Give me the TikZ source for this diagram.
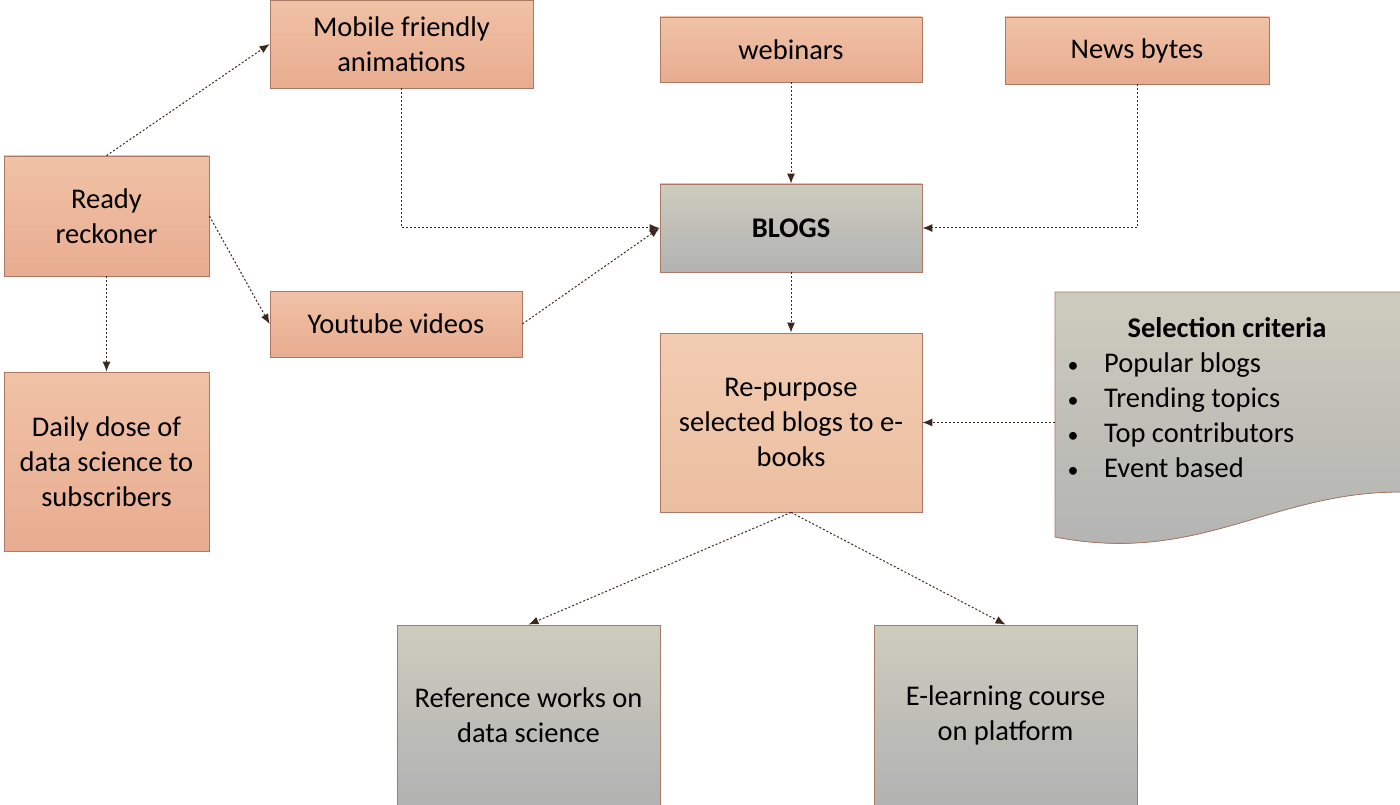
\documentclass[tikz,border=0pt]{standalone}
\usepackage{fontspec}
\setmainfont{Carlito}
\usetikzlibrary{arrows.meta}
\definecolor{salT}{RGB}{240,194,166}
\definecolor{salB}{RGB}{232,172,144}
\definecolor{repT}{RGB}{242,204,178}
\definecolor{repB}{RGB}{236,190,160}
\definecolor{gryT}{RGB}{204,204,190}
\definecolor{gryB}{RGB}{178,178,178}
\definecolor{boxline}{RGB}{170,120,100}
\definecolor{connc}{RGB}{60,40,30}
\begin{document}
\begin{tikzpicture}[x=1pt,y=-1pt,font=\fontsize{28.5}{35}\selectfont,
  box/.style={draw=boxline,line width=0.8pt,align=center,inner sep=0pt,
    top color=salT,bottom color=salB},
  rbox/.style={box,top color=repT,bottom color=repB},
  gbox/.style={box,top color=gryT,bottom color=gryB},
  conn/.style={draw=connc,line width=1pt,dash pattern=on 2pt off 2pt,
    -{Latex[length=10pt,width=8pt]}},
  bul/.style={anchor=base,inner sep=0pt,font=\fontsize{22}{35}\selectfont},
  btxt/.style={anchor=base west,inner sep=0pt}]
\useasboundingbox (0,0) rectangle (1400,805);

% document shape
\fill[top color=gryT,bottom color=gryB] (1055,292) -- (1400,292) -- (1400,492)
  .. controls (1270,492) and (1200,565) .. (1055,537) -- cycle;
\draw[boxline,line width=0.8pt] (1400,492)
  .. controls (1270,492) and (1200,565) .. (1055,537) -- (1055,292) -- (1400,292);
\node[minimum width=345pt,minimum height=253pt,inner sep=0pt] (sel) at (1227.5,418.5) {};
\node[font=\fontsize{28.5}{35}\selectfont\bfseries,inner sep=0pt] (st) at (1227,328) {Selection criteria};
\node[bul] (u1) at (1073,372) {\textbullet};
\node[btxt] (b1) at (1104,372) {Popular blogs};
\node[bul] (u2) at (1073,407) {\textbullet};
\node[btxt] (b2) at (1104,407) {Trending topics};
\node[bul] (u3) at (1073,442) {\textbullet};
\node[btxt] (b3) at (1104,442) {Top contributors};
\node[bul] (u4) at (1073,477) {\textbullet};
\node[btxt] (b4) at (1104,477) {Event based};

\node[box,minimum width=263pt,minimum height=88pt] (mob) at (401.5,44) {Mobile friendly\\animations};
\node[box,minimum width=262pt,minimum height=65pt] (web) at (791,49.5) {webinars};
\node[box,minimum width=264pt,minimum height=67pt] (news) at (1137,50.5) {News bytes};
\node[box,minimum width=205pt,minimum height=120pt] (rr) at (106.5,216) {Ready\\reckoner};
\node[gbox,minimum width=262pt,minimum height=88pt,font=\fontsize{28.5}{35}\selectfont\bfseries] (blogs) at (791,228) {BLOGS};
\node[box,minimum width=252pt,minimum height=66pt] (yt) at (396,324) {Youtube videos};
\node[box,minimum width=205pt,minimum height=179pt] (dd) at (106.5,461.5) {Daily dose of\\data science to\\subscribers};
\node[rbox,minimum width=262pt,minimum height=179pt] (rep) at (791,422.5) {Re-purpose\\selected blogs to e-\\books};
\node[gbox,minimum width=263pt,minimum height=180pt] (ref) at (528.5,715) {Reference works on\\data science};
\node[gbox,minimum width=263pt,minimum height=180pt] (el) at (1005.5,715) {E-learning course\\on platform};

\draw[conn] (rr.north) -- (mob.west);
\draw[conn] (rr.east) -- (yt.west);
\draw[conn] (rr.south) -- (dd.north);
\draw[conn] (mob.south) |- (blogs.west);
\draw[conn] (yt.east) -- (blogs.west);
\draw[conn] (web.south) -- (blogs.north);
\draw[conn] (news.south) |- (blogs.east);
\draw[conn] (blogs.south) -- (rep.north);
\draw[conn] (sel.west |- rep.east) -- (rep.east);
\draw[conn] (rep.south) -- (ref.north);
\draw[conn] (rep.south) -- (el.north);
\end{tikzpicture}
\end{document}
